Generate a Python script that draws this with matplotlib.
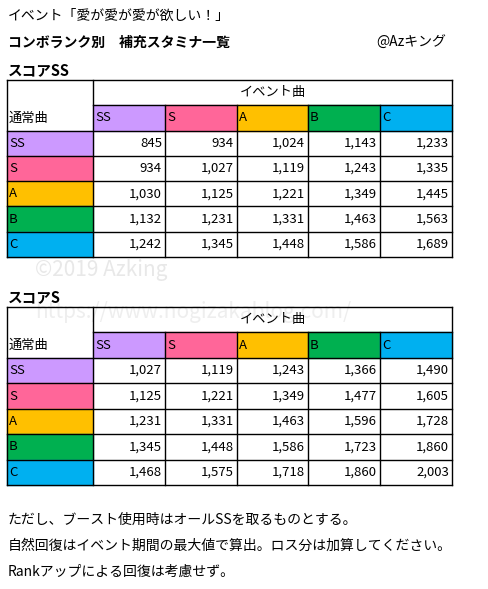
import matplotlib.pyplot as plt
from matplotlib.patches import Rectangle

plt.rcParams['font.family'] = ['Noto Sans CJK JP', 'DejaVu Sans']

ranks = ["SS", "S", "A", "B", "C"]
rank_colors = ["#CC99FF", "#FF6699", "#FFC000", "#00B050", "#00B0F0"]

score_ss = [
    [845, 934, 1024, 1143, 1233],
    [934, 1027, 1119, 1243, 1335],
    [1030, 1125, 1221, 1349, 1445],
    [1132, 1231, 1331, 1463, 1563],
    [1242, 1345, 1448, 1586, 1689],
]
score_s = [
    [1027, 1119, 1243, 1366, 1490],
    [1125, 1221, 1349, 1477, 1605],
    [1231, 1331, 1463, 1596, 1728],
    [1345, 1448, 1586, 1723, 1860],
    [1468, 1575, 1718, 1860, 2003],
]

col_x = [7, 93, 165, 237, 308, 380, 452]

fig = plt.figure(figsize=(4.88, 5.89), dpi=100)
ax = fig.add_axes([0, 0, 1, 1])
ax.set_xlim(0, 488)
ax.set_ylim(589, 0)
ax.axis("off")


def draw_table(top, bottom, values):
    row_h = (bottom - top) / 7
    ys = [top + i * row_h for i in range(8)]
    ax.text((col_x[1] + col_x[-1]) / 2, (ys[0] + ys[1]) / 2, "イベント曲",
            ha="center", va="center", fontsize=9.5, zorder=4)
    ax.text(col_x[0] + 2, (ys[1] + ys[2]) / 2, "通常曲", ha="left", va="center", fontsize=9.5)
    for j, (r, c) in enumerate(zip(ranks, rank_colors)):
        ax.add_patch(Rectangle((col_x[j + 1], ys[1]), col_x[j + 2] - col_x[j + 1], row_h,
                               color=c, zorder=1))
        ax.text(col_x[j + 1] + 2, (ys[1] + ys[2]) / 2, r, ha="left", va="center", fontsize=9.5)
    for i, (r, c) in enumerate(zip(ranks, rank_colors)):
        y0 = ys[i + 2]
        ax.add_patch(Rectangle((col_x[0], y0), col_x[1] - col_x[0], row_h, color=c, zorder=1))
        ax.text(col_x[0] + 2, y0 + row_h / 2, r, ha="left", va="center", fontsize=9.5)
        for j, v in enumerate(values[i]):
            ax.text(col_x[j + 2] - 3, y0 + row_h / 2, f"{v:,}", ha="right", va="center",
                    fontsize=9.5)
    for k, y in enumerate(ys):
        x0 = col_x[1] if k == 1 else col_x[0]
        ax.plot([x0, col_x[-1]], [y, y], color="black", lw=1.0, zorder=3)
    for k, x in enumerate(col_x):
        y0 = ys[0] if k in (0, 1, len(col_x) - 1) else ys[1]
        ax.plot([x, x], [y0, ys[-1]], color="black", lw=1.0, zorder=3)


ax.text(8, 16, "イベント「愛が愛が愛が欲しい！」", ha="left", va="center", fontsize=10)
ax.text(8, 43, "コンボランク別　補充スタミナ一覧", ha="left", va="center", fontsize=10,
        fontweight="bold")
ax.text(376, 43, "@Azキング", ha="left", va="center", fontsize=10)
ax.text(8, 70, "スコアSS", ha="left", va="center", fontsize=10.5, fontweight="bold")
draw_table(80, 257, score_ss)
ax.text(8, 297, "スコアS", ha="left", va="center", fontsize=10.5, fontweight="bold")
draw_table(307, 485, score_s)

# watermark
ax.text(35, 270, "©2019 Azking", ha="left", va="center", fontsize=15, color="#e8e8e8",
        zorder=0)
ax.text(35, 312, "https://www.nogizakablog.com/", ha="left", va="center", fontsize=15,
        color="#eeeeee", zorder=0)

ax.text(8, 520, "ただし、ブースト使用時はオールSSを取るものとする。", ha="left", va="center", fontsize=10)
ax.text(8, 546, "自然回復はイベント期間の最大値で算出。ロス分は加算してください。", ha="left",
        va="center", fontsize=10)
ax.text(8, 572, "Rankアップによる回復は考慮せず。", ha="left", va="center", fontsize=10)

fig.savefig("out.png", dpi=100)
